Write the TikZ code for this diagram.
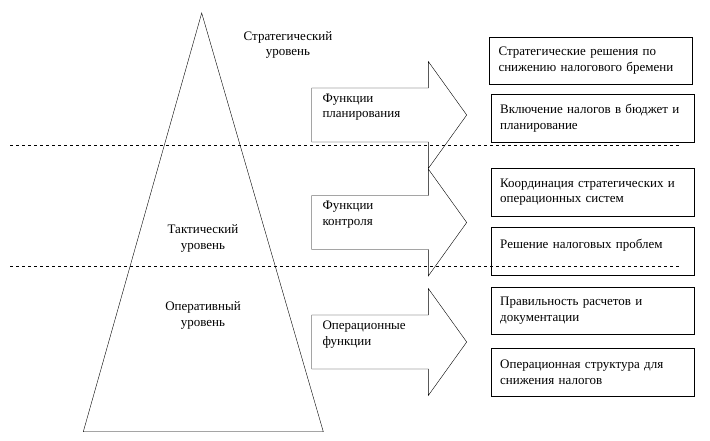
\documentclass[tikz,border=0pt]{standalone}
\usepackage{fontspec}
\setmainfont{Liberation Serif}
\begin{document}
\begin{tikzpicture}[x=1pt,y=-1pt,
  every node/.style={font=\rmfamily\fontsize{13}{15.3}\selectfont},
  levelname/.style={align=center},
  funcname/.style={align=left,anchor=west},
  taskbox/.style={draw,anchor=north west,text width=185pt,minimum height=47.5pt,
    inner xsep=9pt,align=left}]
\useasboundingbox (0,0) rectangle (710,441);
% pyramid
\coordinate (A) at (201.7,13);
\coordinate (L) at (83.3,431.7);
\coordinate (R) at (323.3,431.7);
\draw (L) -- (A) -- (R) -- cycle;
% level borders
\draw[dashed] (10,145) -- (680,145);
\draw[dashed] (10,266) -- (680,266);
\node[levelname] (strat) at (288,45) {Стратегический\\уровень};
\node[levelname] (takt) at (203,238.5) {Тактический\\уровень};
\node[levelname] (oper) at (203,315.5) {Оперативный\\уровень};
% arrows
\foreach \yc in {115,222.5,342}
  \draw (311.7,{\yc-27}) -- (428.3,{\yc-27}) -- (428.3,{\yc-53.5}) -- (466.7,\yc)
    -- (428.3,{\yc+53.5}) -- (428.3,{\yc+27}) -- (311.7,{\yc+27}) -- cycle;
\node[funcname] (plan) at (319,107) {Функции\\планирования};
\node[funcname] (contr) at (319,214.5) {Функции\\контроля};
\node[funcname] (opfn) at (319,334.5) {Операционные\\функции};
% tasks
\node[taskbox] (t1) at (489.3,36.7) {Стратегические решения по снижению налогового бремени};
\node[taskbox] (t2) at (491,94.3) {Включение налогов в бюджет и планирование};
\node[taskbox] (t3) at (491,168.3) {Координация стратегических и операционных систем};
\node[taskbox] (t4) at (491,227.3) {Решение налоговых проблем\\\mbox{}};
\node[taskbox] (t5) at (491,286.7) {Правильность расчетов и документации};
\node[taskbox] (t6) at (491,348.3) {Операционная структура для снижения налогов};
\end{tikzpicture}
\end{document}
